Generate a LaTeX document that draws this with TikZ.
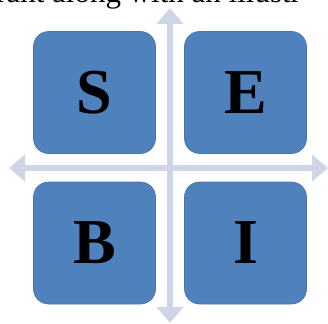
\documentclass[tikz,border=0pt]{standalone}
\usepackage{fontspec}
\setmainfont{Liberation Serif}
\usetikzlibrary{arrows.meta}
\definecolor{quadblue}{HTML}{4F81BD}
\definecolor{quadedge}{HTML}{4675B0}
\definecolor{axisgray}{HTML}{CDD5E6}
\tikzset{
  quad/.style={draw=quadedge, line width=0.6pt, fill=quadblue, rounded corners=15pt,
    minimum width=122pt, minimum height=122pt, inner sep=0pt,
    font=\fontsize{64}{64}\selectfont\bfseries, text=black},
  axis/.style={draw=axisgray, line width=6.5pt,
    {Triangle[width=26pt,length=16pt]}-{Triangle[width=26pt,length=16pt]}},
}
\begin{document}
\begin{tikzpicture}[x=1pt,y=-1pt]
  \useasboundingbox (0,0) rectangle (328,323);
  \clip (0,0) rectangle (328,323);
  % running text line above the figure, cut by the page edge
  \node[anchor=base west, inner sep=0pt, font=\fontsize{31}{31}\selectfont] (txt) at (-4,3) {rant along with an illustr};
  % axes
  \coordinate (top) at (170,8);
  \coordinate (bot) at (170,323);
  \coordinate (lft) at (9,168);
  \coordinate (rgt) at (328,168);
  \draw[axis] (top) -- (bot);
  \draw[axis] (lft) -- (rgt);
  % quadrants
  \node[quad] (S) at (94.5,92.5) {S};
  \node[quad] (E) at (245.5,92.5) {E};
  \node[quad] (B) at (94.5,243) {B};
  \node[quad] (I) at (245.5,243) {I};
\end{tikzpicture}
\end{document}
